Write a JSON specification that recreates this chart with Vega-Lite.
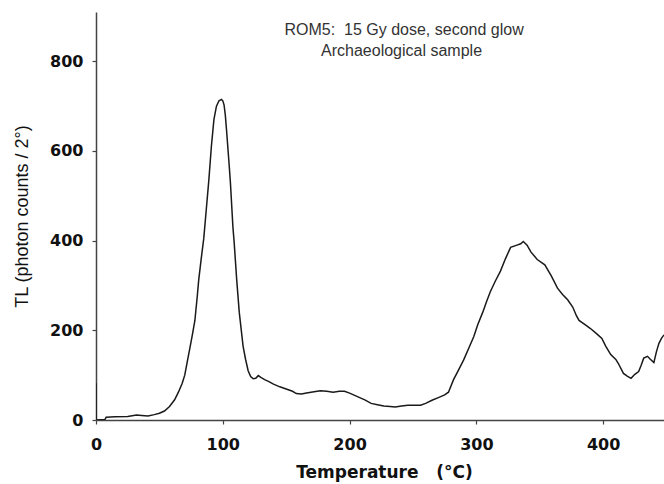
{
  "$schema": "https://vega.github.io/schema/vega-lite/v6.json",
  "width": 568,
  "height": 408,
  "autosize": {"type": "none"},
  "padding": {"left": 96, "top": 12, "right": 0, "bottom": 64},
  "background": "white",
  "config": {
    "view": {"stroke": null},
    "axis": {
      "grid": false,
      "domainColor": "#444",
      "domainWidth": 1.5,
      "tickColor": "#444",
      "tickWidth": 1.2,
      "tickSize": 4,
      "labelColor": "#111",
      "titleColor": "#111",
      "labelFont": "DejaVu Sans",
      "labelFontWeight": "bold",
      "labelFontSize": 16,
      "labelFlush": false
    }
  },
  "datasets": {
    "curve": [
      {"T": 0, "V": 82}, {"T": 0, "V": 38}, {"T": 0, "V": 0}, {"T": 7, "V": 1}, {"T": 8, "V": 6},
      {"T": 15, "V": 7}, {"T": 25, "V": 8}, {"T": 32, "V": 11}, {"T": 36, "V": 10}, {"T": 41, "V": 9},
      {"T": 46, "V": 12}, {"T": 50, "V": 15}, {"T": 54, "V": 20}, {"T": 58, "V": 30}, {"T": 62, "V": 45},
      {"T": 65, "V": 62}, {"T": 68, "V": 82}, {"T": 70, "V": 100}, {"T": 72, "V": 130}, {"T": 74, "V": 160},
      {"T": 76, "V": 190}, {"T": 78, "V": 222}, {"T": 80, "V": 280}, {"T": 81, "V": 312}, {"T": 83, "V": 360},
      {"T": 85, "V": 405}, {"T": 87, "V": 470}, {"T": 89, "V": 535}, {"T": 91, "V": 610}, {"T": 93, "V": 670},
      {"T": 95, "V": 700}, {"T": 97, "V": 712}, {"T": 99, "V": 715}, {"T": 100, "V": 712}, {"T": 101, "V": 703},
      {"T": 102, "V": 680}, {"T": 103, "V": 645}, {"T": 105, "V": 570}, {"T": 106, "V": 530}, {"T": 108, "V": 430},
      {"T": 109, "V": 395}, {"T": 111, "V": 312}, {"T": 113, "V": 240}, {"T": 114, "V": 215}, {"T": 116, "V": 165},
      {"T": 118, "V": 135}, {"T": 120, "V": 110}, {"T": 122, "V": 97}, {"T": 124, "V": 92}, {"T": 126, "V": 93},
      {"T": 128, "V": 99}, {"T": 130, "V": 95}, {"T": 133, "V": 90}, {"T": 136, "V": 86}, {"T": 140, "V": 80},
      {"T": 145, "V": 74}, {"T": 150, "V": 69}, {"T": 155, "V": 64}, {"T": 158, "V": 59}, {"T": 162, "V": 58},
      {"T": 166, "V": 60}, {"T": 172, "V": 63}, {"T": 177, "V": 65}, {"T": 182, "V": 64}, {"T": 187, "V": 62},
      {"T": 192, "V": 64}, {"T": 196, "V": 64}, {"T": 200, "V": 60}, {"T": 204, "V": 55}, {"T": 208, "V": 50},
      {"T": 212, "V": 45}, {"T": 217, "V": 37}, {"T": 222, "V": 34}, {"T": 227, "V": 31}, {"T": 232, "V": 30},
      {"T": 236, "V": 29}, {"T": 241, "V": 31}, {"T": 246, "V": 33}, {"T": 251, "V": 33}, {"T": 256, "V": 33},
      {"T": 260, "V": 37}, {"T": 265, "V": 44}, {"T": 270, "V": 50}, {"T": 275, "V": 56}, {"T": 278, "V": 62},
      {"T": 282, "V": 90}, {"T": 286, "V": 112}, {"T": 290, "V": 134}, {"T": 294, "V": 160}, {"T": 298, "V": 186},
      {"T": 301, "V": 212}, {"T": 305, "V": 240}, {"T": 308, "V": 264}, {"T": 311, "V": 286}, {"T": 315, "V": 310},
      {"T": 319, "V": 332}, {"T": 323, "V": 360}, {"T": 327, "V": 385}, {"T": 332, "V": 390}, {"T": 335, "V": 393},
      {"T": 337, "V": 398}, {"T": 340, "V": 390}, {"T": 343, "V": 375}, {"T": 348, "V": 358}, {"T": 354, "V": 346},
      {"T": 359, "V": 322}, {"T": 364, "V": 294}, {"T": 368, "V": 280}, {"T": 372, "V": 268}, {"T": 376, "V": 252},
      {"T": 379, "V": 232}, {"T": 381, "V": 222}, {"T": 386, "V": 212}, {"T": 390, "V": 204}, {"T": 395, "V": 192},
      {"T": 399, "V": 182}, {"T": 402, "V": 165}, {"T": 406, "V": 146}, {"T": 410, "V": 135}, {"T": 412, "V": 126},
      {"T": 416, "V": 104}, {"T": 419, "V": 98}, {"T": 422, "V": 93}, {"T": 425, "V": 102}, {"T": 428, "V": 108},
      {"T": 430, "V": 122}, {"T": 432, "V": 138}, {"T": 435, "V": 142}, {"T": 437, "V": 136}, {"T": 440, "V": 128},
      {"T": 442, "V": 152}, {"T": 444, "V": 171}, {"T": 446, "V": 182}, {"T": 448, "V": 190}
    ],
    "notes": [
      {"T": 243, "V": 859, "label": "ROM5:\u00a0\u00a015 Gy dose, second glow"},
      {"T": 241, "V": 812, "label": "Archaeological sample"}
    ]
  },
  "layer": [
    {
      "data": {"name": "curve"},
      "mark": {"type": "line", "color": "#1a1a1a", "strokeWidth": 1.5, "clip": true},
      "encoding": {
        "x": {
          "field": "T", "type": "quantitative",
          "scale": {"domain": [0, 448], "nice": false, "zero": false},
          "axis": {
            "values": [0, 100, 200, 300, 400],
            "labelPadding": 12,
            "title": "Temperature\u00a0\u00a0\u00a0(°C)",
            "titleFont": "DejaVu Sans",
            "titleFontWeight": "bold",
            "titleFontSize": 17,
            "titleBaseline": "alphabetic",
            "titleY": 57,
            "titleX": 288
          }
        },
        "y": {
          "field": "V", "type": "quantitative",
          "scale": {"domain": [0, 910], "nice": false},
          "axis": {
            "values": [0, 200, 400, 600, 800],
            "labelPadding": 9,
            "title": "TL (photon counts / 2°)",
            "titleFont": "Liberation Sans",
            "titleFontWeight": "normal",
            "titleFontSize": 18,
            "titleAngle": -90,
            "titleAlign": "center",
            "titleBaseline": "middle",
            "titleX": -74,
            "titleY": 204
          }
        },
        "order": {"field": "T"}
      }
    },
    {
      "data": {"name": "notes"},
      "mark": {"type": "text", "font": "Liberation Sans", "fontSize": 16, "color": "#333", "align": "center", "baseline": "alphabetic"},
      "encoding": {
        "x": {"field": "T", "type": "quantitative"},
        "y": {"field": "V", "type": "quantitative"},
        "text": {"field": "label", "type": "nominal"}
      }
    }
  ]
}
